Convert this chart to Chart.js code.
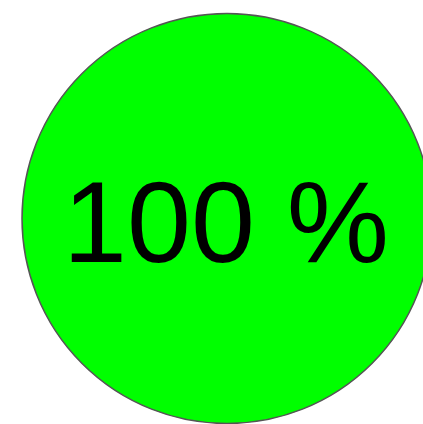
<!DOCTYPE html>
<html>
<head>
<meta charset="utf-8">
<script src="https://cdn.jsdelivr.net/npm/chart.js@4"></script>
<style>
html,body{margin:0;padding:0;background:#fff;overflow:hidden;}
canvas{display:block;}
</style>
</head>
<body>
<canvas id="c" width="423" height="424"></canvas>
<script>
const categories = ["Complete"];
const values = [100];
const centerLabel = "100 %";

const centerText = {
  id: 'centerText',
  afterDatasetsDraw(chart) {
    const meta = chart.getDatasetMeta(0);
    const arc = meta.data[0];
    const ctx = chart.ctx;
    ctx.save();
    ctx.strokeStyle = '#555555';
    ctx.lineWidth = 1.5;
    ctx.beginPath();
    ctx.arc(arc.x, arc.y, arc.outerRadius, 0, Math.PI * 2);
    ctx.stroke();
    ctx.fillStyle = '#000';
    ctx.font = '115px "Liberation Sans", Arial, sans-serif';
    ctx.textAlign = 'center';
    ctx.textBaseline = 'alphabetic';
    ctx.fillText(centerLabel, arc.x - 1, 262);
    ctx.restore();
  }
};

new Chart(document.getElementById('c'), {
  type: 'pie',
  data: {
    labels: categories,
    datasets: [{
      data: values,
      backgroundColor: ['#00ff00'],
      borderWidth: 0,
      radius: 205,
      clip: false
    }]
  },
  options: {
    responsive: false,
    animation: false,
    layout: { padding: { left: 31, right: 0, top: 13, bottom: 0 } },
    plugins: { legend: { display: false }, tooltip: { enabled: false } }
  },
  plugins: [centerText]
});
</script>
</body>
</html>
